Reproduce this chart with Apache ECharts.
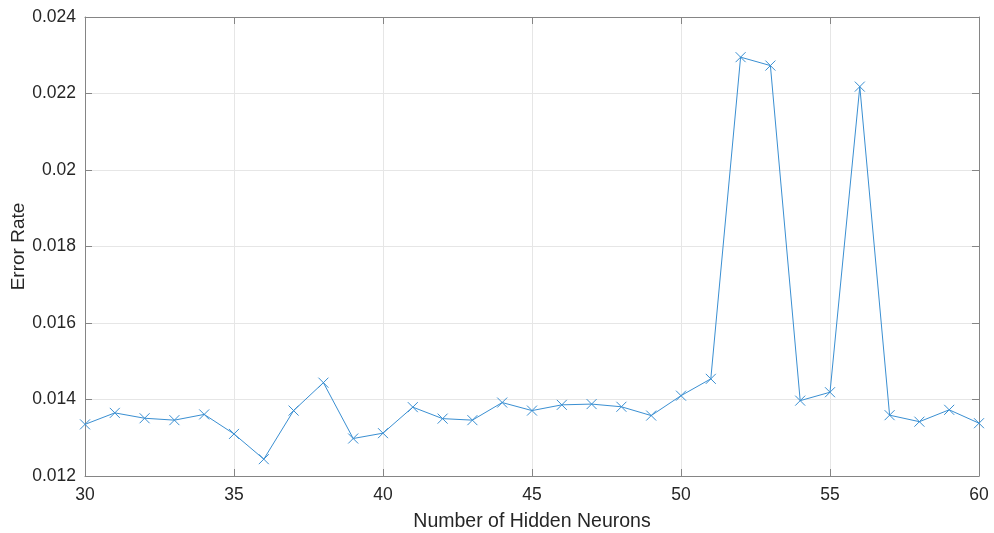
<!DOCTYPE html>
<html>
<head>
<meta charset="utf-8">
<script src="https://cdn.jsdelivr.net/npm/echarts@6/dist/echarts.min.js"></script>
<style>
  html, body { margin: 0; padding: 0; background: #fff; }
  #chart { width: 994px; height: 533px; }
</style>
</head>
<body>
<div id="chart"></div>
<script>
// Hidden layer size vs. error rate
const neurons = [30, 31, 32, 33, 34, 35, 36, 37, 38, 39, 40, 41, 42, 43, 44, 45,
                 46, 47, 48, 49, 50, 51, 52, 53, 54, 55, 56, 57, 58, 59, 60];
const errorRate = [0.01335, 0.01365, 0.01351, 0.01346, 0.01361, 0.01310, 0.01244, 0.01371,
                   0.01444, 0.01298, 0.01312, 0.01380, 0.01350, 0.01346, 0.01392, 0.01371,
                   0.01386, 0.01388, 0.01381, 0.01358, 0.01410, 0.01454, 0.02295, 0.02273,
                   0.01397, 0.01419, 0.02218, 0.01359, 0.01342, 0.01373, 0.01338];
const xTicks = { min: 30, max: 60, step: 5 };
const yTicks = { min: 0.012, max: 0.024, step: 0.002 };

const axisGray = '#858585';
const textGray = '#262626';
const gridGray = '#e6e6e6';
const lineBlue = '#3a8fd2';
const font = 'Liberation Sans, Arial, Helvetica, sans-serif';

const fmtY = v => parseFloat(v.toFixed(4)).toString();

const chart = echarts.init(document.getElementById('chart'), null, { renderer: 'canvas' });

const baseX = {
  type: 'value', min: xTicks.min, max: xTicks.max, interval: xTicks.step,
  axisLine: { show: true, lineStyle: { color: axisGray, width: 1 } },
  axisTick: { show: true, inside: true, length: 7, lineStyle: { color: axisGray } },
};
const baseY = {
  type: 'value', min: yTicks.min, max: yTicks.max, interval: yTicks.step,
  axisLine: { show: true, lineStyle: { color: axisGray, width: 1 } },
  axisTick: { show: true, inside: true, length: 7, lineStyle: { color: axisGray } },
};

chart.setOption({
  animation: false,
  backgroundColor: '#fff',
  grid: {
    left: 85, right: 15, top: 17, bottom: 57,
    containLabel: false,
    outerBoundsMode: 'none',
  },
  xAxis: [
    Object.assign({}, baseX, {
      position: 'bottom',
      name: 'Number of Hidden Neurons',
      nameLocation: 'middle',
      nameGap: 36,
      nameMoveOverlap: false,
      nameTextStyle: { color: textGray, fontSize: 19.5, fontFamily: font },
      axisLabel: { color: textGray, fontSize: 17.5, fontFamily: font, margin: 10 },
      splitLine: { show: true, lineStyle: { color: gridGray, width: 1 } },
    }),
    Object.assign({}, baseX, {
      position: 'top',
      axisLabel: { show: false },
      splitLine: { show: false },
    }),
  ],
  yAxis: [
    Object.assign({}, baseY, {
      position: 'left',
      name: 'Error Rate',
      nameLocation: 'middle',
      nameGap: 57,
      nameMoveOverlap: false,
      nameRotate: 90,
      nameTextStyle: { color: textGray, fontSize: 19, fontFamily: font },
      axisLabel: { color: textGray, fontSize: 17.5, fontFamily: font, margin: 9, formatter: fmtY },
      splitLine: { show: true, lineStyle: { color: gridGray, width: 1 } },
    }),
    Object.assign({}, baseY, {
      position: 'right',
      axisLabel: { show: false },
      splitLine: { show: false },
    }),
  ],
  series: [{
    type: 'line',
    xAxisIndex: 0,
    yAxisIndex: 0,
    data: neurons.map((n, i) => [n, errorRate[i]]),
    lineStyle: { color: lineBlue, width: 1 },
    symbol: 'path://M0,0L10,10M10,0L0,10',
    symbolSize: 10,
    showAllSymbol: true,
    itemStyle: { color: 'rgba(0,0,0,0)', borderColor: lineBlue, borderWidth: 1 },
    emphasis: { disabled: true },
  }],
});
</script>
</body>
</html>
